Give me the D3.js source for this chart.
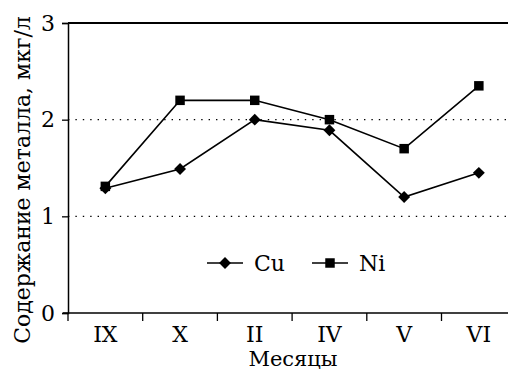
<!DOCTYPE html>
<html>
<head>
<meta charset="utf-8">
<script src="https://cdn.jsdelivr.net/npm/d3@7"></script>
<style>
  body { margin: 0; background: #fff; }
  svg text { font-family: "DejaVu Serif", serif; fill: #000; }
</style>
</head>
<body>
<figure id="chart" style="margin:0"></figure>
<script>
const months = ["IX", "X", "II", "IV", "V", "VI"];
const cuValues = [1.29, 1.49, 2.0, 1.89, 1.2, 1.45];
const niValues = [1.31, 2.2, 2.2, 2.0, 1.7, 2.35];
const yTicks = [0, 1, 2, 3];
const gridValues = [1, 2];

const width = 508, height = 370;
const mLeft = 68, mTop = 23, mBottom = 313;

const svg = d3.select("figure#chart")
  .append("svg")
  .attr("width", width)
  .attr("height", height);

// scales
const x = d3.scaleBand()
  .domain(months)
  .range([mLeft, mLeft + 6 * 74.7]);
const y = d3.scaleLinear()
  .domain([0, 3])
  .range([mBottom, mTop]);
const cx = d => x(d) + x.bandwidth() / 2;

// dotted grid
svg.append("g")
  .selectAll("line")
  .data(gridValues)
  .enter()
  .append("line")
  .attr("x1", mLeft)
  .attr("x2", width)
  .attr("y1", d => y(d))
  .attr("y2", d => y(d))
  .attr("stroke", "#000")
  .attr("stroke-width", 1.3)
  .attr("stroke-dasharray", "1.4 6");

// top frame line
svg.append("line")
  .attr("x1", mLeft).attr("x2", width)
  .attr("y1", y(3)).attr("y2", y(3))
  .attr("stroke", "#000").attr("stroke-width", 2);

// Y axis
const yAxis = svg.append("g")
  .attr("transform", "translate(" + mLeft + ",0)")
  .call(d3.axisLeft(y).tickValues(yTicks).tickFormat(d3.format("d")).tickSize(6).tickPadding(7));
yAxis.select(".domain").attr("stroke-width", 1.5);
yAxis.selectAll(".tick line").attr("stroke-width", 1.3);
yAxis.selectAll("text").attr("font-size", 22).attr("font-family", "DejaVu Serif");

// X axis: boundary ticks and centered labels
const xAxis = svg.append("g").attr("transform", "translate(0," + mBottom + ")");
xAxis.append("line")
  .attr("x1", mLeft - 5).attr("x2", width)
  .attr("stroke", "#000").attr("stroke-width", 1.5);
xAxis.selectAll(".btick")
  .data(months)
  .enter()
  .append("line")
  .attr("class", "btick")
  .attr("x1", d => x(d)).attr("x2", d => x(d))
  .attr("y1", 0).attr("y2", 8)
  .attr("stroke", "#000").attr("stroke-width", 1.3);
xAxis.selectAll("text")
  .data(months)
  .enter()
  .append("text")
  .attr("x", d => cx(d))
  .attr("y", 29)
  .attr("text-anchor", "middle")
  .attr("font-size", 22)
  .text(d => d);

// axis titles
svg.append("text")
  .attr("x", 293)
  .attr("y", 366)
  .attr("text-anchor", "middle")
  .attr("font-size", 21)
  .text("Месяцы");
svg.append("text")
  .attr("transform", "translate(30,180) rotate(-90)")
  .attr("text-anchor", "middle")
  .attr("font-size", 22)
  .text("Содержание металла, мкг/л");

// lines
const line = d3.line()
  .x((d, i) => cx(months[i]))
  .y(d => y(d));

const diamond = d3.symbol().type(d3.symbolDiamond2).size(90);
const square = d3.symbol().type(d3.symbolSquare).size(90);

[[niValues, square], [cuValues, diamond]].forEach(([vals, sym]) => {
  svg.append("path")
    .datum(vals)
    .attr("d", line)
    .attr("fill", "none")
    .attr("stroke", "#000")
    .attr("stroke-width", 1.6);
  svg.append("g")
    .selectAll("path")
    .data(vals)
    .enter()
    .append("path")
    .attr("d", sym)
    .attr("transform", (d, i) => "translate(" + cx(months[i]) + "," + y(d) + ")")
    .attr("fill", "#000");
});

// legend
const legend = [
  { name: "Cu", sym: diamond, x: 207 },
  { name: "Ni", sym: square, x: 312 }
];
const lg = svg.append("g").attr("transform", "translate(0,263)");
legend.forEach(l => {
  lg.append("line")
    .attr("x1", l.x).attr("x2", l.x + 36)
    .attr("stroke", "#000").attr("stroke-width", 1.6);
  lg.append("path")
    .attr("d", l.sym)
    .attr("transform", "translate(" + (l.x + 18) + ",0)")
    .attr("fill", "#000");
  lg.append("text")
    .attr("x", l.x + 47)
    .attr("y", 8)
    .attr("font-size", 22)
    .text(l.name);
});
</script>
</body>
</html>
